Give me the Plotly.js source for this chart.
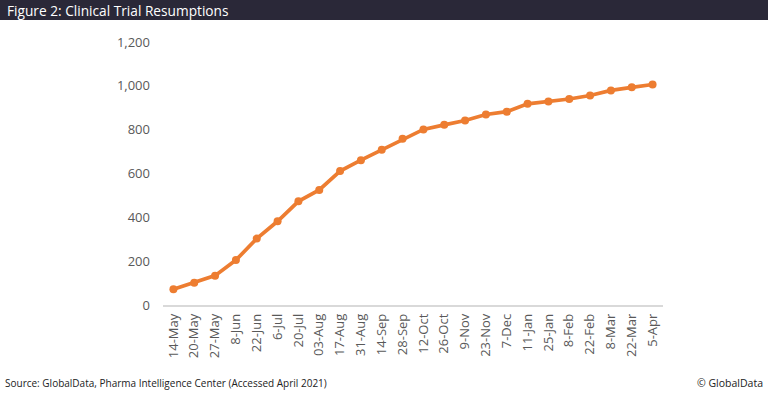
<!DOCTYPE html>
<html>
<head>
<meta charset="utf-8">
<script src="https://cdn.plot.ly/plotly-3.0.1.min.js"></script>
<style>
html,body{margin:0;padding:0;background:#fff;}
#chart{width:768px;height:394px;}
</style>
</head>
<body>
<div id="chart"></div>
<script>
const categories = ["14-May","20-May","27-May","8-Jun","22-Jun","6-Jul","20-Jul","03-Aug","17-Aug","31-Aug","14-Sep","28-Sep","12-Oct","26-Oct","9-Nov","23-Nov","7-Dec","11-Jan","25-Jan","8-Feb","22-Feb","8-Mar","22-Mar","5-Apr"];
const resumptions = [72,102,134,205,303,382,473,525,611,661,708,758,801,822,842,869,882,918,929,940,956,979,993,1006];
const yTickVals = [0,200,400,600,800,1000,1200];
const yTickText = ["0","200","400","600","800","1,000","1,200"];
const titleText = "Figure 2: Clinical Trial Resumptions";
const sourceText = "Source: GlobalData, Pharma Intelligence Center (Accessed April 2021)";
const creditText = "© GlobalData";

const W = 768, H = 394;
const M = {l:163, r:105, t:42, b:89};
const pw = W - M.l - M.r, ph = H - M.t - M.b;
const px = x => (x - M.l) / pw;           // pixel -> paper x
const py = y => (H - M.b - y) / ph;       // pixel -> paper y

const trace = {
  x: categories,
  y: resumptions,
  type: 'scatter',
  mode: 'lines+markers',
  line: {color: '#ED7D31', width: 3.7},
  marker: {color: '#ED7D31', size: 8},
  hoverinfo: 'skip'
};

const layout = {
  width: W, height: H,
  margin: M,
  paper_bgcolor: '#ffffff',
  plot_bgcolor: '#ffffff',
  showlegend: false,
  font: {family: 'Open Sans, sans-serif', color: '#595959'},
  xaxis: {
    type: 'category',
    tickangle: -90,
    showgrid: false,
    zeroline: false,
    showline: true,
    linecolor: '#d9d9d9',
    linewidth: 1.5,
    ticks: '',
    ticklabelstandoff: 2,
    tickfont: {size: 13, color: '#595959', family: 'Open Sans, sans-serif'},
    range: [-0.5, categories.length - 0.5],
    fixedrange: true
  },
  yaxis: {
    range: [0, 1200],
    tickvals: yTickVals,
    ticktext: yTickText,
    showgrid: false,
    zeroline: false,
    showline: false,
    ticks: '',
    ticklabelstandoff: 12,
    tickfont: {size: 13, color: '#595959', family: 'Open Sans, sans-serif'},
    fixedrange: true
  },
  shapes: [{
    type: 'rect', xref: 'paper', yref: 'paper',
    x0: px(0), x1: px(W), y0: py(20), y1: py(0),
    fillcolor: '#2a2838', line: {width: 0}, layer: 'above'
  }],
  annotations: [
    {text: titleText, xref: 'paper', yref: 'paper', x: px(5), y: py(10),
     xanchor: 'left', yanchor: 'middle', showarrow: false,
     font: {size: 13.7, color: '#ffffff', family: 'Open Sans, sans-serif'}},
    {text: sourceText, xref: 'paper', yref: 'paper', x: px(3), y: py(383),
     xanchor: 'left', yanchor: 'middle', showarrow: false,
     font: {size: 10, color: '#222222', family: 'Open Sans, sans-serif'}},
    {text: creditText, xref: 'paper', yref: 'paper', x: px(765), y: py(383),
     xanchor: 'right', yanchor: 'middle', showarrow: false,
     font: {size: 10.5, color: '#222222', family: 'Open Sans, sans-serif'}}
  ]
};

Plotly.newPlot('chart', [trace], layout, {staticPlot: true, displayModeBar: false});
</script>
</body>
</html>
